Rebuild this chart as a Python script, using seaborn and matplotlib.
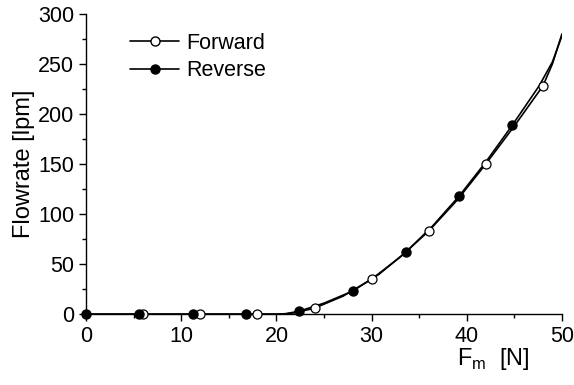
import seaborn as sns
import matplotlib.pyplot as plt
from matplotlib.lines import Line2D
from matplotlib.ticker import MultipleLocator

# curve points
fwd_x = [0, 6, 12, 18, 20, 21, 22, 24, 27, 30, 33, 36, 39, 42, 45, 48, 49, 50]
fwd_y = [0, 0, 0, 0, 0, 0.3, 1.5, 6, 18, 35, 57, 83, 114, 150, 188, 228, 250, 280]
rev_x = [0, 5.6, 11.2, 16.8, 20, 21, 22.4, 25, 28, 30.8, 33.6, 36.4, 39.2, 42, 44.8, 47.6, 49, 50]
rev_y = [0, 0, 0, 0, 0, 0.5, 3, 11, 23, 40, 62, 88, 118, 152, 189, 228, 252, 278]

# marker positions
fwd_mx = [6, 12, 18, 24, 30, 36, 42, 48]
fwd_my = [0, 0, 0, 6, 35, 83, 150, 228]
rev_mx = [0, 5.6, 11.2, 16.8, 22.4, 28, 33.6, 39.2, 44.8]
rev_my = [0, 0, 0, 0, 3, 23, 62, 118, 189]

sns.set_style('ticks')
plt.rcParams['font.family'] = ['Liberation Sans', 'DejaVu Sans']
plt.rcParams['font.size'] = 15
plt.rcParams['text.color'] = 'black'
plt.rcParams['axes.labelcolor'] = 'black'

fig = plt.figure(figsize=(5.74, 3.85), dpi=100)
ax = fig.add_axes([0.150, 0.184, 0.829, 0.780])

sns.lineplot(x=fwd_x, y=fwd_y, color='black', lw=1.2, ax=ax, sort=False)
sns.lineplot(x=rev_x, y=rev_y, color='black', lw=1.2, ax=ax, sort=False)
ax.plot(fwd_mx, fwd_my, 'o', ms=6.5, mfc='white', mec='black', mew=0.9, clip_on=False, zorder=5)
ax.plot(rev_mx, rev_my, 'o', ms=6.5, mfc='black', mec='black', clip_on=False, zorder=5)

ax.set_xlim(0, 50)
ax.set_ylim(0, 300)
ax.xaxis.set_major_locator(MultipleLocator(10))
ax.xaxis.set_minor_locator(MultipleLocator(5))
ax.yaxis.set_major_locator(MultipleLocator(50))
ax.yaxis.set_minor_locator(MultipleLocator(25))
ax.tick_params(which='major', length=5, width=1, labelsize=15.5, colors='black')
ax.tick_params(which='minor', length=3, width=1, colors='black')
for s in ['top', 'right']:
    ax.spines[s].set_visible(False)
for s in ['left', 'bottom']:
    ax.spines[s].set_color('black')
    ax.spines[s].set_linewidth(1)

ax.set_ylabel('Flowrate [lpm]', fontsize=17)
ax.yaxis.set_label_coords(-0.107, 0.5)
ax.set_xlabel(r'F$_\mathregular{m}$  [N]', fontsize=17)
ax.xaxis.set_label_coords(0.855, -0.105)

handles = [
    Line2D([], [], color='black', lw=1.2, marker='o', ms=6.5, mfc='white', mec='black'),
    Line2D([], [], color='black', lw=1.2, marker='o', ms=6.5, mfc='black', mec='black'),
]
ax.legend(handles, ['Forward', 'Reverse'], loc='upper left', bbox_to_anchor=(0.092, 0.937),
          borderaxespad=0, borderpad=0, frameon=False, fontsize=15.5,
          handlelength=2.3, handletextpad=0.3, labelspacing=0.3)

fig.savefig('out.png', dpi=100)
